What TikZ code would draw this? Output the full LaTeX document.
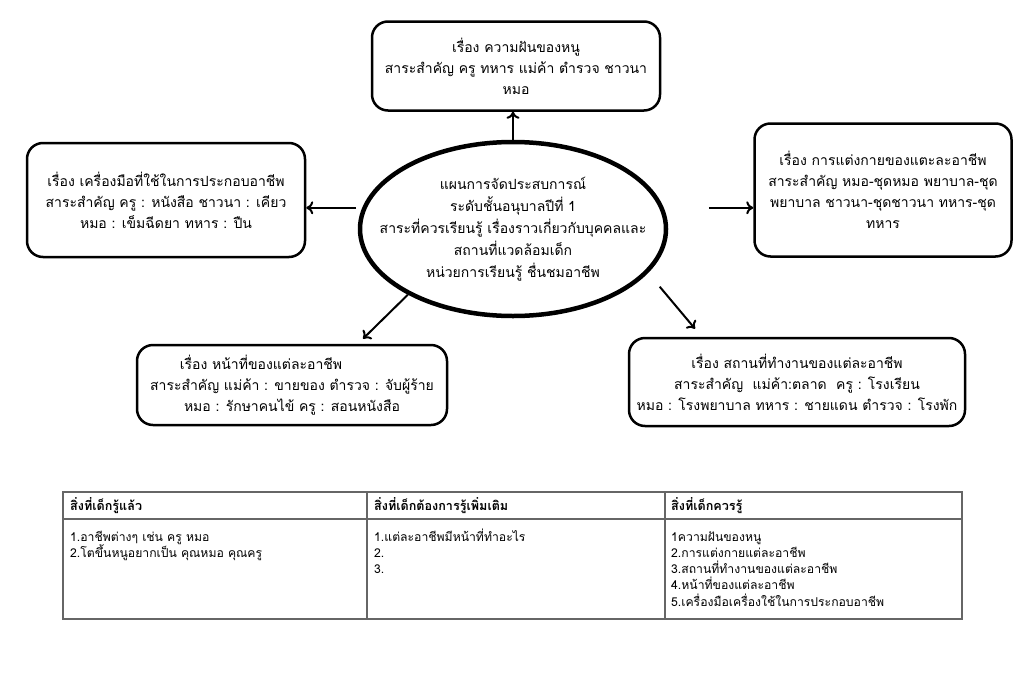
\documentclass[tikz,border=0pt]{standalone}
\usepackage{fontspec}
\setmainfont[Script=Thai]{Loma}
\usetikzlibrary{shapes.geometric,arrows.meta}

\tikzset{
  topic/.style={draw, line width=2.5pt, rounded corners=16pt, align=center,
    inner sep=2pt, font=\fontsize{14}{21}\selectfont},
  hub/.style={draw, ellipse, line width=4.5pt, minimum width=306pt,
    minimum height=174pt, inner sep=0pt},
  hubtext/.style={align=center, inner sep=0pt, font=\fontsize{14}{22}\selectfont},
  arr/.style={-{To[length=7pt,width=13pt]}, line width=2pt},
  tbl/.style={draw=black!60, line width=2pt},
  hdr/.style={anchor=west, inner sep=0pt, font=\bfseries\fontsize{12.6}{14}\selectfont},
  cell/.style={anchor=north west, align=left, inner sep=0pt,
    font=\fontsize{12.2}{16.2}\selectfont}
}
\newcommand{\cellstrut}{\rule{0pt}{13pt}}

\begin{document}
\begin{tikzpicture}[x=1pt, y=-1pt]
  \useasboundingbox[fill=white] (0,0) rectangle (1024,696);

  % centre of the web
  \node[hub] (hub) at (513,229) {};
  \node[hubtext] (hubtxt) at (hub.center) {แผนการจัดประสบการณ์\\ระดับชั้นอนุบาลปีที่ 1\\สาระที่ควรเรียนรู้ เรื่องราวเกี่ยวกับบุคคลและ\\สถานที่แวดล้อมเด็ก\\หน่วยการเรียนรู้ ชื่นชมอาชีพ};

  % topics round it
  \node[topic, minimum width=288pt, minimum height=89pt] (dream) at (516,66) {เรื่อง ความฝันของหนู\\สาระสำคัญ ครู ทหาร แม่ค้า ตำรวจ ชาวนา\\หมอ};
  \node[topic, minimum width=278pt, minimum height=114pt] (tools) at (166,200) {เรื่อง เครื่องมือที่ใช้ในการประกอบอาชีพ\\สาระสำคัญ ครู : หนังสือ ชาวนา : เคียว\\หมอ : เข็มฉีดยา ทหาร : ปืน};
  \node[topic, minimum width=257pt, minimum height=133pt] (dress) at (883,190) {เรื่อง การแต่งกายของแตะละอาชีพ\\สาระสำคัญ หมอ-ชุดหมอ พยาบาล-ชุด\\พยาบาล ชาวนา-ชุดชาวนา ทหาร-ชุด\\ทหาร};
  \node[topic, minimum width=310pt, minimum height=80pt] (duty) at (292,385) {เรื่อง หน้าที่ของแต่ละอาชีพ\hspace*{62pt}\\สาระสำคัญ แม่ค้า : ขายของ ตำรวจ : จับผู้ร้าย\\หมอ : รักษาคนไข้ ครู : สอนหนังสือ};
  \node[topic, minimum width=336pt, minimum height=88pt] (place) at (797,382) {เรื่อง สถานที่ทำงานของแต่ละอาชีพ\\สาระสำคัญ\ \ แม่ค้า:ตลาด\ \ ครู : โรงเรียน\\หมอ : โรงพยาบาล ทหาร : ชายแดน ตำรวจ : โรงพัก};

  \draw[arr] (hub.north) -- (hub.north |- dream.south);
  \draw[arr, shorten <=6pt] (hub.172) -- (hub.172 -| tools.east);
  \draw[arr, shorten <=45pt] (hub.8) -- (hub.8 -| dress.west);
  \draw[arr] (hub.212) -- ([xshift=71pt,yshift=5pt]duty.north);
  \draw[arr, shorten <=18pt] (hub.342) -- ([xshift=-102pt,yshift=8pt]place.north);

  % table below
  \draw[tbl] (63,492) rectangle (962,619);
  \draw[tbl] (63,519) -- (962,519);
  \draw[tbl] (367,492) -- (367,619);
  \draw[tbl] (665,492) -- (665,619);
  \node[hdr] (h1) at (70,506) {สิ่งที่เด็กรู้แล้ว};
  \node[hdr] (h2) at (374,506) {สิ่งที่เด็กต้องการรู้เพิ่มเติม};
  \node[hdr] (h3) at (671,506) {สิ่งที่เด็กควรรู้};
  \node[cell] (c1) at (70,528) {\cellstrut 1.อาชีพต่างๆ เช่น ครู หมอ\\2.โตขึ้นหนูอยากเป็น คุณหมอ คุณครู};
  \node[cell] (c2) at (374,528) {\cellstrut 1.แต่ละอาชีพมีหน้าที่ทำอะไร\\2.\\3.};
  \node[cell] (c3) at (671,528) {\cellstrut 1ความฝันของหนู\\2.การแต่งกายแต่ละอาชีพ\\3.สถานที่ทำงานของแต่ละอาชีพ\\4.หน้าที่ของแต่ละอาชีพ\\5.เครื่องมือเครื่องใช้ในการประกอบอาชีพ};
\end{tikzpicture}
\end{document}
